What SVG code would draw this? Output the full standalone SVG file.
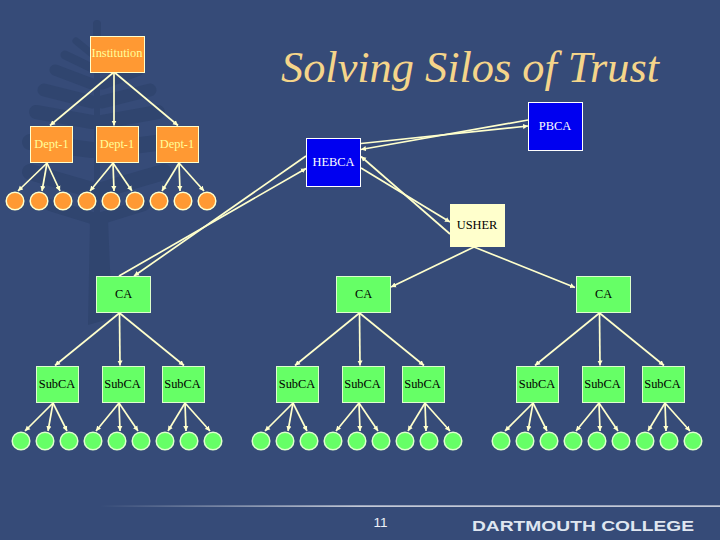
<svg xmlns="http://www.w3.org/2000/svg" width="720" height="540" viewBox="0 0 720 540">
<style>
.t{font-family:"Liberation Serif","Times New Roman",serif;font-size:12.4px;text-anchor:middle}
.or rect,.or circle{fill:#ff9933;stroke:#ffffcc;stroke-width:1}
.or circle,.gr circle{stroke-width:1.5}
.or text{fill:#ffff99}
.gr rect,.gr circle{fill:#66ff66;stroke:#ddffcc;stroke-width:1}
.gr circle{stroke-width:1.5}
.gr text,.us text{fill:#000}
.bl rect{fill:#0000f0;stroke:#fff;stroke-width:1}
.bl text{fill:#fff}
.us rect{fill:#ffffcc}
#connectors line{stroke:#ffffcc;stroke-width:1.7;fill:none;marker-end:url(#a)}
#tree path{fill:none;stroke:#30456f;stroke-linecap:round}
</style>
<defs>
<marker id="a" markerUnits="userSpaceOnUse" markerWidth="6" markerHeight="6" refX="5" refY="3" orient="auto"><path d="M0 0.4L5 3L0 5.6z" fill="#ffffcc"/></marker>
<linearGradient id="fade" gradientUnits="userSpaceOnUse" x1="100" y1="0" x2="360" y2="0"><stop offset="0" stop-color="#fff" stop-opacity="0"/><stop offset="1" stop-color="#fff"/></linearGradient>
</defs>
<rect width="720" height="540" fill="#364b78"/>
<g id="tree">
<path d="M97 24V34" stroke-width="8"/>
<path d="M76 41L92 54M118 41L102 54" stroke-width="7"/>
<path d="M65 55L92 68M129 55L102 68" stroke-width="9"/>
<path d="M55 70L92 84M139 70L102 84" stroke-width="11"/>
<path d="M44 90L92 102M150 90L102 102" stroke-width="13"/>
<path d="M36 112L92 122M158 112L102 122" stroke-width="14"/>
<path d="M30 142L92 150M164 142L102 150" stroke-width="16"/>
<path d="M30 172L92 190M164 172L102 190" stroke-width="16"/>
<path d="M50 205L92 218M144 205L102 218" stroke-width="12"/>
<path d="M94 36H100V225H94z" style="fill:#30456f" stroke-width="0"/>
<path d="M90 220H108L112 318L88 325z" style="fill:#30456f" stroke-width="0"/>
</g>
<rect x="100" y="505.500" width="620" height="1.200" fill="url(#fade)"/>
<text x="281" y="82" font-family="'Liberation Serif','Times New Roman',serif" font-style="italic" font-size="44" fill="#f5d58a" textLength="378" lengthAdjust="spacingAndGlyphs">Solving Silos of Trust</text>
<g id="connectors">
<line x1="114" y1="72" x2="50" y2="125.500"/><line x1="114" y1="72" x2="114" y2="125.500"/><line x1="114" y1="72" x2="178" y2="125.500"/>
<line x1="47" y1="163" x2="18" y2="191"/><line x1="47" y1="163" x2="42" y2="191"/><line x1="47" y1="163" x2="60" y2="191"/>
<line x1="113" y1="163" x2="90" y2="191"/><line x1="113" y1="163" x2="114" y2="191"/><line x1="113" y1="163" x2="132" y2="191"/>
<line x1="179" y1="163" x2="162" y2="191"/><line x1="179" y1="163" x2="180" y2="191"/><line x1="179" y1="163" x2="204" y2="191"/>
<line x1="361" y1="143.500" x2="528" y2="126"/><line x1="528" y1="120" x2="361" y2="149.500"/>
<line x1="450" y1="234" x2="361" y2="156.500"/><line x1="361" y1="168" x2="450" y2="222"/>
<line x1="306" y1="156" x2="134" y2="276"/><line x1="119" y1="276" x2="306" y2="168.500"/>
<line x1="474" y1="247" x2="391" y2="287"/><line x1="474" y1="247" x2="575" y2="287.500"/>
<line x1="119.500" y1="313" x2="55" y2="365.500"/><line x1="119.500" y1="313" x2="120" y2="365.500"/><line x1="119.500" y1="313" x2="184" y2="365.500"/>
<line x1="53" y1="403" x2="25" y2="431"/><line x1="53" y1="403" x2="48" y2="431"/><line x1="53" y1="403" x2="67" y2="431"/>
<line x1="119" y1="403" x2="96" y2="431"/><line x1="119" y1="403" x2="120" y2="431"/><line x1="119" y1="403" x2="138" y2="431"/>
<line x1="185" y1="403" x2="168" y2="431"/><line x1="185" y1="403" x2="186" y2="431"/><line x1="185" y1="403" x2="210" y2="431"/>
<line x1="359.500" y1="313" x2="295" y2="365.500"/><line x1="359.500" y1="313" x2="360" y2="365.500"/><line x1="359.500" y1="313" x2="424" y2="365.500"/>
<line x1="293" y1="403" x2="265" y2="431"/><line x1="293" y1="403" x2="288" y2="431"/><line x1="293" y1="403" x2="307" y2="431"/>
<line x1="359" y1="403" x2="336" y2="431"/><line x1="359" y1="403" x2="360" y2="431"/><line x1="359" y1="403" x2="378" y2="431"/>
<line x1="425" y1="403" x2="408" y2="431"/><line x1="425" y1="403" x2="426" y2="431"/><line x1="425" y1="403" x2="450" y2="431"/>
<line x1="599.500" y1="313" x2="535" y2="365.500"/><line x1="599.500" y1="313" x2="600" y2="365.500"/><line x1="599.500" y1="313" x2="664" y2="365.500"/>
<line x1="533" y1="403" x2="505" y2="431"/><line x1="533" y1="403" x2="528" y2="431"/><line x1="533" y1="403" x2="547" y2="431"/>
<line x1="599" y1="403" x2="576" y2="431"/><line x1="599" y1="403" x2="600" y2="431"/><line x1="599" y1="403" x2="618" y2="431"/>
<line x1="665" y1="403" x2="648" y2="431"/><line x1="665" y1="403" x2="666" y2="431"/><line x1="665" y1="403" x2="690" y2="431"/>
</g>
<g id="institution" class="or"><rect x="90.500" y="36.500" width="54" height="36"/><text class="t" x="117" y="57">Institution</text></g>
<g id="dept1" class="or"><rect x="30.500" y="126.500" width="42" height="36"/><text class="t" x="51.500" y="148">Dept-1</text></g>
<g id="dept2" class="or"><rect x="96.500" y="126.500" width="42" height="36"/><text class="t" x="117" y="148">Dept-1</text></g>
<g id="dept3" class="or"><rect x="156.500" y="126.500" width="42" height="36"/><text class="t" x="177" y="148">Dept-1</text></g>
<g id="leaves-dept" class="or">
<circle id="d1" cx="15" cy="201" r="8.800"/><circle id="d2" cx="39" cy="201" r="8.800"/><circle id="d3" cx="63" cy="201" r="8.800"/>
<circle id="d4" cx="87" cy="201" r="8.800"/><circle id="d5" cx="111" cy="201" r="8.800"/><circle id="d6" cx="135" cy="201" r="8.800"/>
<circle id="d7" cx="159" cy="201" r="8.800"/><circle id="d8" cx="183" cy="201" r="8.800"/><circle id="d9" cx="207" cy="201" r="8.800"/>
</g>
<g id="hebca" class="bl"><rect x="306.500" y="138.500" width="54" height="48"/><text class="t" x="333.500" y="166">HEBCA</text></g>
<g id="pbca" class="bl"><rect x="528.500" y="102.500" width="54" height="48"/><text class="t" x="555" y="130">PBCA</text></g>
<g id="usher" class="us"><rect x="450" y="204" width="55" height="43"/><text class="t" x="477" y="229">USHER</text></g>
<g id="ca1" class="gr"><rect x="96.500" y="276.500" width="54" height="36"/><text class="t" x="123.500" y="298">CA</text></g>
<g id="ca2" class="gr"><rect x="336.500" y="276.500" width="54" height="36"/><text class="t" x="363.500" y="298">CA</text></g>
<g id="ca3" class="gr"><rect x="576.500" y="276.500" width="54" height="36"/><text class="t" x="603.500" y="298">CA</text></g>
<g id="sub1" class="gr"><rect x="36.500" y="366.500" width="42" height="36"/><text class="t" x="57" y="388">SubCA</text></g>
<g id="sub2" class="gr"><rect x="102.500" y="366.500" width="42" height="36"/><text class="t" x="122.500" y="388">SubCA</text></g>
<g id="sub3" class="gr"><rect x="162.500" y="366.500" width="42" height="36"/><text class="t" x="182.500" y="388">SubCA</text></g>
<g id="sub4" class="gr"><rect x="276.500" y="366.500" width="42" height="36"/><text class="t" x="297" y="388">SubCA</text></g>
<g id="sub5" class="gr"><rect x="342.500" y="366.500" width="42" height="36"/><text class="t" x="362.500" y="388">SubCA</text></g>
<g id="sub6" class="gr"><rect x="402.500" y="366.500" width="42" height="36"/><text class="t" x="422.500" y="388">SubCA</text></g>
<g id="sub7" class="gr"><rect x="516.500" y="366.500" width="42" height="36"/><text class="t" x="537" y="388">SubCA</text></g>
<g id="sub8" class="gr"><rect x="582.500" y="366.500" width="42" height="36"/><text class="t" x="602.500" y="388">SubCA</text></g>
<g id="sub9" class="gr"><rect x="642.500" y="366.500" width="42" height="36"/><text class="t" x="662.500" y="388">SubCA</text></g>
<g id="leaves-ca" class="gr">
<circle cx="21" cy="441" r="8.800"/><circle cx="45" cy="441" r="8.800"/><circle cx="69" cy="441" r="8.800"/><circle cx="93" cy="441" r="8.800"/><circle cx="117" cy="441" r="8.800"/><circle cx="141" cy="441" r="8.800"/><circle cx="165" cy="441" r="8.800"/><circle cx="189" cy="441" r="8.800"/><circle cx="213" cy="441" r="8.800"/>
<circle cx="261" cy="441" r="8.800"/><circle cx="285" cy="441" r="8.800"/><circle cx="309" cy="441" r="8.800"/><circle cx="333" cy="441" r="8.800"/><circle cx="357" cy="441" r="8.800"/><circle cx="381" cy="441" r="8.800"/><circle cx="405" cy="441" r="8.800"/><circle cx="429" cy="441" r="8.800"/><circle cx="453" cy="441" r="8.800"/>
<circle cx="501" cy="441" r="8.800"/><circle cx="525" cy="441" r="8.800"/><circle cx="549" cy="441" r="8.800"/><circle cx="573" cy="441" r="8.800"/><circle cx="597" cy="441" r="8.800"/><circle cx="621" cy="441" r="8.800"/><circle cx="645" cy="441" r="8.800"/><circle cx="669" cy="441" r="8.800"/><circle cx="693" cy="441" r="8.800"/>
</g>
<text x="380.500" y="527" font-family="'Liberation Sans',Arial,sans-serif" font-size="13.500" fill="#eef2f8" text-anchor="middle">11</text>
<text x="472" y="531" font-family="'Liberation Sans',Arial,sans-serif" font-size="15.500" font-weight="bold" fill="#dfe6f0" textLength="222" lengthAdjust="spacingAndGlyphs">DARTMOUTH COLLEGE</text>
</svg>
